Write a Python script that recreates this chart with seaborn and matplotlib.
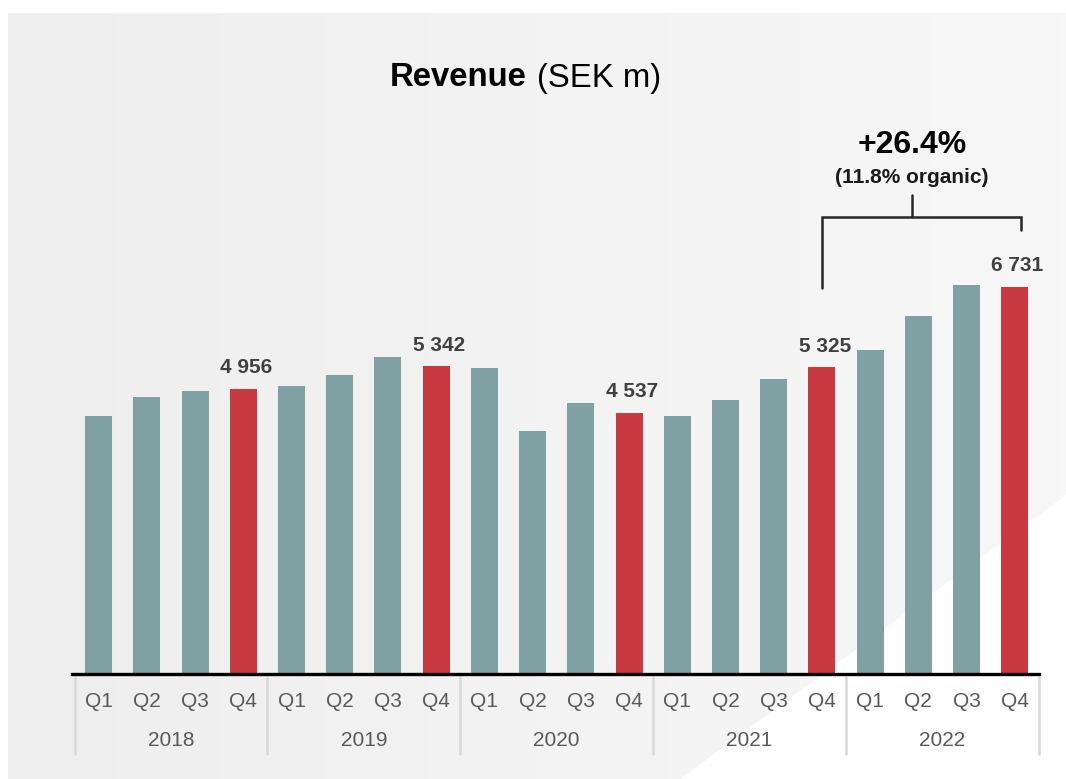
import numpy as np
import pandas as pd
import matplotlib
matplotlib.use("Agg")
import matplotlib.pyplot as plt
import seaborn as sns
from matplotlib.patches import Polygon
import matplotlib.transforms as mtransforms

# ---- data ----
years = ["2018", "2019", "2020", "2021", "2022"]
quarters = ["Q1", "Q2", "Q3", "Q4"]
revenue = [4472, 4803, 4907, 4956,
           5006, 5198, 5504, 5342,
           5319, 4228, 4704, 4537,
           4472, 4762, 5133, 5325,
           5632, 6224, 6763, 6731]
title_bold = "Revenue"
title_rest = "(SEK m)"
growth_text = "+26.4%"
organic_text = "(11.8% organic)"

teal = "#7FA1A3"
red = "#C83A40"

labels = [f"{y} {q}" for y in years for q in quarters]
colors = [red if q == "Q4" else teal for y in years for q in quarters]
df = pd.DataFrame({"period": labels, "revenue": revenue})

sns.set_theme(style="white")
plt.rcParams["font.family"] = ["Liberation Sans", "DejaVu Sans"]

W, H = 1066, 779
fig = plt.figure(figsize=(W / 100, H / 100), dpi=100, facecolor="white")

# background panel with subtle gradient and white diagonal
bg = fig.add_axes([0, 0, 1, 1], zorder=-10)
bg.set_xlim(0, W)
bg.set_ylim(H, 0)
bg.axis("off")
grad = np.linspace(0, 1, 256)[None, :]
cmap = matplotlib.colors.LinearSegmentedColormap.from_list("g", ["#eeeeee", "#f3f3f3", "#f7f7f7"])
bg.imshow(grad, cmap=cmap, extent=[8, W, H, 13], aspect="auto", zorder=0)
bg.add_patch(Polygon([[W, 495], [W, H], [680, H]], closed=True, facecolor="white",
                     edgecolor="none", zorder=1))

# main axes
left_px, right_px, bottom_px, top_px = 72, 1038.5, 673.5, 100
ax = fig.add_axes([left_px / W, (H - bottom_px) / H, (right_px - left_px) / W,
                   (bottom_px - top_px) / H])
ax.patch.set_alpha(0)

sns.barplot(data=df, x="period", y="revenue", hue="period", palette=colors,
            legend=False, width=0.56, ax=ax, saturation=1, linewidth=0)

ax.set_xlim(-0.554, 19.494)
ax.set_ylim(0, (bottom_px - top_px) / 0.05747)
for s in ["left", "right", "top"]:
    ax.spines[s].set_visible(False)
ax.spines["bottom"].set_color("black")
ax.spines["bottom"].set_linewidth(2.4)
ax.set_xticks([])
ax.set_yticks([])
ax.set_xlabel("")
ax.set_ylabel("")

# value labels on Q4 bars
for i, v in enumerate(revenue):
    if i % 4 == 3:
        ax.annotate(f"{v:,}".replace(",", " "), xy=(i, v), xytext=(2, 11),
                    textcoords="offset points", ha="center", va="baseline",
                    fontsize=15, fontweight="bold", color="#404040")

# category axis labels
tr = mtransforms.blended_transform_factory(ax.transData, ax.transAxes)
px = 1.0 / (bottom_px - top_px)
for i, lab in enumerate(labels):
    q = lab.split()[1]
    ax.text(i, -28 * px, q, transform=tr, ha="center", va="center",
            fontsize=15, color="#595959")
for k, y in enumerate(years):
    ax.text(4 * k + 1.5, -67 * px, y, transform=tr, ha="center", va="center",
            fontsize=15, color="#595959")
for k in range(len(years) + 1):
    ax.plot([4 * k - 0.5, 4 * k - 0.5], [-3 * px, -80 * px], transform=tr,
            color="#d9d9d9", lw=1.8, clip_on=False)

# growth bracket
i0, i1 = 15, 19
xr = i1 + 0.14
xm = (i0 + xr) / 2 - 0.2
yb = 0.7955
ax.plot([i0, i0, xr, xr], [0.6717, yb, yb, 0.7733], transform=tr, color="#262626",
        lw=1.8, clip_on=False, solid_joinstyle="miter")
ax.plot([xm, xm], [yb, 0.8344], transform=tr, color="#262626", lw=1.8, clip_on=False)
ax.text(xm, 0.9215, growth_text, transform=tr, ha="center", va="center",
        fontsize=23, fontweight="bold", color="black")
ax.text(xm, 0.8645, organic_text, transform=tr, ha="center", va="center",
        fontsize=15, fontweight="bold", color="#1a1a1a")

# title
fig.text(527 / W, 1 - 78 / H, title_bold, ha="right", va="center", fontsize=23.7,
         fontweight="bold", color="black")
fig.text(537 / W, 1 - 78 / H, title_rest, ha="left", va="center", fontsize=23.7,
         color="black")

fig.savefig("out.png", dpi=100, facecolor=fig.get_facecolor())
